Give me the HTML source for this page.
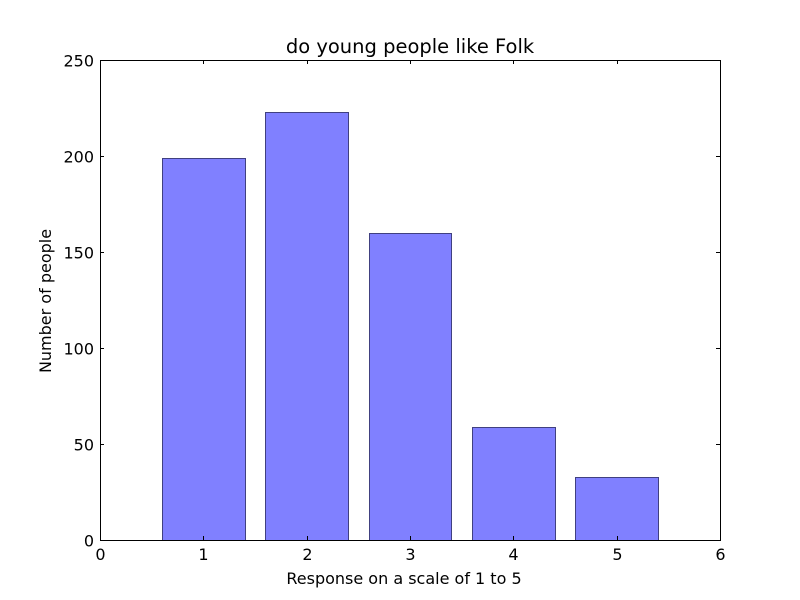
<!DOCTYPE html>
<html><head><meta charset="utf-8"><style>
body{margin:0;background:#fff;}
svg{display:block;font-family:"DejaVu Sans","Liberation Sans",sans-serif;}
</style></head><body>
<svg id="chart" width="800" height="600"></svg>
<script>
const categories=[1,2,3,4,5];
const values=[199,223,160,59,33];
const xTicks=[0,1,2,3,4,5,6];
const yTicks=[0,50,100,150,200,250];
const L=100,R=720,T=60,B=540;
const xs=v=>L+(v-0)/(6-0)*(R-L);
const ys=v=>B-(v-0)/(250-0)*(B-T);
const NS="http://www.w3.org/2000/svg";
const svg=document.getElementById('chart');
function mk(tag,attrs,parent){const e=document.createElementNS(NS,tag);for(const k in attrs)e.setAttribute(k,attrs[k]);(parent||svg).appendChild(e);return e;}
const bg=mk('rect',{x:0,y:0,width:800,height:600,fill:'#fff'});


categories.forEach((c,i)=>{
  const x0=Math.round(xs(c-0.4))+0.5,x1=Math.round(xs(c+0.4))+0.5,y=Math.round(ys(values[i]))+0.5;
  const r=mk('rect',{x:x0,y:y,width:x1-x0,height:B+0.5-y,fill:'#8080ff',stroke:'#404080','stroke-width':1});
  
  
});
const frame=mk('rect',{x:L+0.5,y:T+0.5,width:R-L,height:B-T,fill:'none',stroke:'#000','stroke-width':1});


xTicks.forEach(t=>{
  const x=Math.round(xs(t))+0.5;
  mk('line',{x1:x,y1:B,x2:x,y2:B-4,stroke:'#000'});
  mk('line',{x1:x,y1:T,x2:x,y2:T+4,stroke:'#000'});
  const tx=mk('text',{x:x,y:B+20,'text-anchor':'middle','font-size':16});
  tx.textContent=t;
  
  
});
yTicks.forEach(t=>{
  const y=Math.round(ys(t))+0.5;
  mk('line',{x1:L,y1:y,x2:L+4,y2:y,stroke:'#000'});
  mk('line',{x1:R,y1:y,x2:R-4,y2:y,stroke:'#000'});
  const tx=mk('text',{x:L-6,y:y+6,'text-anchor':'end','font-size':16});
  tx.textContent=t;
  
  
});
const title=mk('text',{x:410,y:53,'text-anchor':'middle','font-size':19.5});
title.textContent='do young people like Folk';


const xl=mk('text',{x:404,y:584,'text-anchor':'middle','font-size':16});
xl.textContent='Response on a scale of 1 to 5';


const yl=mk('text',{x:51,y:301,'text-anchor':'middle','font-size':16,transform:'rotate(-90 51 301)'});
yl.textContent='Number of people';


</script>
</body></html>
